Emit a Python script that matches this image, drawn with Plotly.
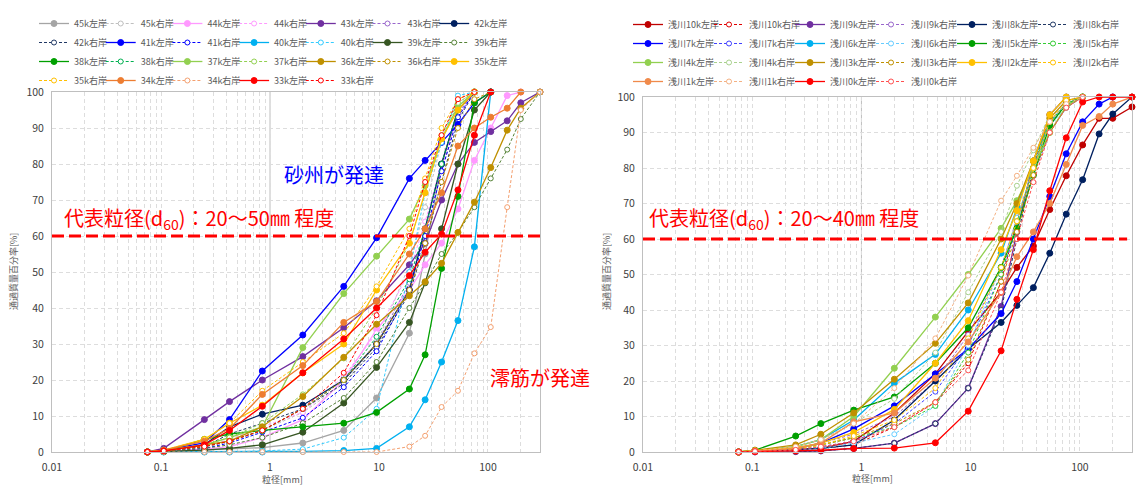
import math
import plotly.graph_objects as go

# ---------------- data ----------------
sieve_mm = [0.075, 0.106, 0.25, 0.425, 0.85, 2, 4.75, 9.5, 19, 26.5, 37.5, 53, 75, 106, 150, 200, 300]
y_ticks = [0, 10, 20, 30, 40, 50, 60, 70, 80, 90, 100]
x_tick_values = [0.01, 0.1, 1, 10, 100]
x_tick_labels = ["0.01", "0.1", "1", "10", "100"]
d60_level = 60

# left panel (main river)
k45_left = [0, 0.2, 0.5, 0.8, 1.2, 2.5, 6, 15, 33, 55, 80, 95, 100]
k45_right = [0, 0.3, 1.5, 3, 6, 11, 19, 30, 52, 68, 86, 97, 100]
k44_left = [0, 0.2, 0.8, 1.5, 4, 9, 20, 34, 45, 52, 58, 67.5, 81, 90, 99, 100]
k44_right = [0, 0.3, 1.5, 3.5, 7, 11, 21, 33, 50, 64, 80, 93, 100]
k43_left = [0, 1, 9, 14, 20, 26.5, 34.5, 42, 52, 58, 70, 80, 86, 89, 92, 97, 100]
k43_right = [0, 0.3, 1.5, 3, 6, 12, 20, 30, 47, 60, 78, 94, 100]
k42_left = [0, 0.3, 2, 7, 10.5, 13, 20, 30, 45, 62, 80, 95, 100]
k42_right = [0, 0.3, 1.5, 5, 8, 12, 19, 29, 44, 58, 75, 92, 100]
k41_left = [0, 0.5, 2.5, 9, 22.5, 32.5, 46, 59.5, 76, 81, 86, 91, 97, 100]
k41_right = [0, 0.2, 1, 2.5, 5.5, 9.5, 18, 28, 45, 60, 78, 93, 100]
k40_left = [0, 0, 0, 0, 0, 0.2, 0.4, 1, 7, 14.5, 25, 36.5, 57, 100]
k40_right = [0, 0, 0, 0, 0.3, 0.8, 4, 12, 50, 72, 86, 99, 100]
k39_left = [0, 0.1, 0.5, 1, 2, 5.5, 13.6, 23.5, 36, 47, 62, 80, 95, 100]
k39_right = [0, 0.2, 1, 2, 4, 8, 15, 25, 40, 47, 55, 61, 68, 76, 84, 92.5, 100]
k38_left = [0, 0.2, 3.5, 5, 6, 7, 8, 11, 17.5, 27, 51, 71, 97, 100]
k38_right = [0, 0.3, 1.5, 3, 6, 12, 20, 32, 48, 62, 80, 95, 100]
k37_left = [0, 0.5, 2, 4, 7, 29, 44, 54.4, 64.7, 74, 87, 96, 100]
k37_right = [0, 0.3, 2, 4, 8, 16, 26, 40, 58, 72, 88, 97, 100]
k36_left = [0, 0.3, 2, 3, 7, 15.4, 26.3, 35.5, 43.4, 47.3, 52.4, 61, 69.4, 79, 89.4, 95.5, 100]
k36_right = [0, 0.3, 1.5, 3, 6, 12, 20, 30, 45, 58, 75, 90, 98, 100]
k35_left = [0, 0.5, 3.5, 8, 13, 22, 30, 45, 58, 72, 87, 95, 100]
k35_right = [0, 0.5, 3.5, 8, 17, 25, 33, 46, 62, 76, 90, 98, 100]
k34_left = [0, 0.5, 3, 6.5, 16, 24, 36, 41.8, 55, 62, 72, 85, 90, 93, 95.5, 100]
k34_right = [0, 0, 0, 0, 0, 0, 0, 0, 1.5, 4.5, 12.5, 17, 27.4, 34.7, 68, 95, 100]
k33_left = [0, 0.3, 2, 6, 12.7, 22, 31.4, 40, 49, 55.5, 60.5, 72.8, 88, 100]
k33_right = [0, 0.3, 1.5, 3, 6, 12, 22, 38, 60, 75, 88, 98, 100]

left_names = ["45k左岸", "45k右岸", "44k左岸", "44k右岸", "43k左岸", "43k右岸", "42k左岸",
              "42k右岸", "41k左岸", "41k右岸", "40k左岸", "40k右岸", "39k左岸", "39k右岸",
              "38k左岸", "38k右岸", "37k左岸", "37k右岸", "36k左岸", "36k右岸", "35k左岸",
              "35k右岸", "34k左岸", "34k右岸", "33k左岸", "33k右岸"]
left_series = [k45_left, k45_right, k44_left, k44_right, k43_left, k43_right, k42_left,
               k42_right, k41_left, k41_right, k40_left, k40_right, k39_left, k39_right,
               k38_left, k38_right, k37_left, k37_right, k36_left, k36_right, k35_left,
               k35_right, k34_left, k34_right, k33_left, k33_right]
left_colors = ["#A5A5A5", "#BFBFBF", "#FF99FF", "#FF99FF", "#7030A0", "#9966CC", "#002060",
               "#203864", "#0000FF", "#0000FF", "#00B0F0", "#33CCFF", "#375623", "#548235",
               "#00A000", "#00B050", "#92D050", "#92D050", "#BF9000", "#BF9000", "#FFC000",
               "#FFC000", "#ED7D31", "#F4A070", "#FF0000", "#FF0000"]

# right panel (Asakawa)
a10_left = [0, 0.2, 0.5, 1, 3, 11, 22, 34, 45, 52, 58, 68.3, 77.8, 86.5, 94, 94, 97.2]
a10_right = [0, 0.2, 0.5, 1, 2, 7, 14, 25, 48, 65, 80, 92, 98, 100]
a9_left = [0, 0, 0.1, 0.3, 1, 2.5, 8, 18, 41, 62, 82, 95, 100]
a9_right = [0, 0.2, 1, 2.5, 5, 10, 20, 33, 52, 66, 80, 93, 98, 100]
a8_left = [0, 0.2, 0.5, 1, 2, 9, 20, 29, 36.5, 41.3, 46.3, 56, 67, 76.7, 89.6, 95.2, 100]
a8_right = [0, 0, 0.1, 0.3, 1, 2.5, 8, 18, 40, 60, 80, 95, 100]
a7_left = [0, 0.2, 1, 2.5, 6.5, 13, 22, 29, 39, 48, 60, 72, 84, 93, 98, 100]
a7_right = [0, 0.2, 0.6, 1.5, 3, 8, 17, 30, 50, 63, 78, 90, 97, 100]
a6_left = [0, 0.2, 1.5, 3.5, 9, 19.4, 27.5, 40, 56, 68.8, 82, 93, 98, 100]
a6_right = [0, 0, 0.3, 1, 2.5, 5, 13, 30, 52, 66, 80, 92, 97, 100]
a5_left = [0, 0.5, 4.5, 8, 11.8, 15.5, 25, 35, 52, 63, 78, 92, 98, 100]
a5_right = [0, 0.2, 1, 2, 4, 7, 13, 28, 50, 65, 80, 93, 98, 100]
a4_left = [0, 0.3, 1.5, 3.5, 10, 23.6, 38, 50, 63, 70.8, 80, 90, 97.5, 100]
a4_right = [0, 0.3, 1.5, 3.5, 8, 15, 28, 45, 62, 75, 85, 95, 100]
a3_left = [0, 0.5, 2, 5, 11, 20.5, 30.6, 42, 60, 70, 82, 94, 99, 100]
a3_right = [0, 0.2, 0.8, 2, 4, 8, 14, 26, 48, 62, 78, 90, 97, 100]
a2_left = [0, 0.3, 1.2, 2.5, 5.5, 12, 25, 37, 57, 68, 82, 95, 100]
a2_right = [0, 0.2, 0.8, 2, 4.5, 9, 18, 32, 52, 65, 80, 93, 99, 100]
a1_left = [0, 0.3, 1, 2.5, 8.5, 11, 20.8, 31, 45, 55, 62, 70, 81, 92, 94.5, 98, 100]
a1_right = [0, 0.3, 1.5, 3.5, 8, 18, 32, 49.7, 70.8, 77.8, 85.7, 93, 98, 100]
a0_left = [0, 0.1, 0.3, 0.5, 1, 1.1, 2.6, 11.5, 28.5, 43, 57, 73.6, 88.5, 98.6, 100, 100, 100]
a0_right = [0, 0.2, 0.6, 1.5, 3, 7, 14, 23, 45, 60, 76, 90, 97, 100]

right_names = ["浅川10k左岸", "浅川10k右岸", "浅川9k左岸", "浅川9k右岸", "浅川8k左岸", "浅川8k右岸",
               "浅川7k左岸", "浅川7k右岸", "浅川6k左岸", "浅川6k右岸", "浅川5k左岸", "浅川5k右岸",
               "浅川4k左岸", "浅川4k右岸", "浅川3k左岸", "浅川3k右岸", "浅川2k左岸", "浅川2k右岸",
               "浅川1k左岸", "浅川1k右岸", "浅川0k左岸", "浅川0k右岸"]
right_series = [a10_left, a10_right, a9_left, a9_right, a8_left, a8_right,
                a7_left, a7_right, a6_left, a6_right, a5_left, a5_right,
                a4_left, a4_right, a3_left, a3_right, a2_left, a2_right,
                a1_left, a1_right, a0_left, a0_right]
right_colors = ["#C00000", "#E00000", "#7030A0", "#9966CC", "#002060", "#203864",
                "#0000FF", "#4040FF", "#00B0F0", "#66CCFF", "#00A000", "#33CC33",
                "#92D050", "#A9D18E", "#BF9000", "#BF9000", "#FFC000", "#FFC000",
                "#F08A4B", "#F4B183", "#FF0000", "#FF5050"]

# ---------------- figure ----------------
# the page body adds an 8 px offset, so the figure is drawn 8 px smaller
OFF = 8
W, H = 1146 - OFF, 486 - OFF
fig = go.Figure()


def add_panel(names, series, colors, xa, ya, legend_id, ncols, prefix, entry_w, last_w):
    for i, (name, vals, col) in enumerate(zip(names, series, colors)):
        dashed = "右岸" in name
        fig.add_trace(go.Scatter(
            x=sieve_mm[:len(vals)], y=vals, name=name, mode="lines+markers",
            xaxis=xa, yaxis=ya, legend=legend_id, legendgroup=f"{prefix}{i % ncols}",
            legendwidth=last_w if i % ncols == ncols - 1 else entry_w,
            cliponaxis=False,
            line=dict(color=col, width=1 if dashed else 1.3, dash="3px,2px" if dashed else "solid"),
            marker=dict(symbol="circle", size=5 if dashed else 6,
                        color="white" if dashed else col,
                        line=dict(color=col, width=1)),
            hovertemplate=name + "<br>%{x} mm: %{y}%<extra></extra>",
        ))


add_panel(left_names, left_series, left_colors, "x", "y", "legend", 7, "L", 21.7, 40)
add_panel(right_names, right_series, right_colors, "x2", "y2", "legend2", 6, "R", 36, 56)


def px_x(p):
    return (p - OFF) / W


def px_y(p):
    return 1 - (p - OFF) / H


grid = "#DDDDDD"
axis_common = dict(
    type="log", range=[-2, math.log10(300)], tickvals=x_tick_values, ticktext=x_tick_labels,
    showgrid=True, gridcolor=grid, griddash="4px,3px", gridwidth=1,
    minor=dict(dtick="D1", showgrid=True, gridcolor=grid, griddash="4px,3px", ticks=""),
    showline=True, linecolor="#BFBFBF", mirror=True, zeroline=False, ticks="",
    tickfont=dict(size=10.5, color="#404040"), ticklabelstandoff=5, automargin=False,
)
yaxis_common = dict(
    range=[0, 100], tickvals=y_ticks, showgrid=True, gridcolor=grid, griddash="4px,3px",
    showline=True, linecolor="#BFBFBF", mirror=True, zeroline=False, ticks="",
    tickfont=dict(size=10.5, color="#404040"), ticklabelstandoff=5, automargin=False,
)

fig.update_layout(
    width=W, height=H, margin=dict(l=0, r=0, t=0, b=0, autoexpand=False),
    paper_bgcolor="white", plot_bgcolor="white",
    font=dict(family="Noto Sans CJK JP, Noto Sans, sans-serif", color="#595959", size=10),
    xaxis=dict(domain=[px_x(52), px_x(540)], anchor="y", **axis_common),
    yaxis=dict(domain=[px_y(452), px_y(92)], anchor="x", **yaxis_common),
    xaxis2=dict(domain=[px_x(643), px_x(1132)], anchor="y2", **axis_common),
    yaxis2=dict(domain=[px_y(452), px_y(97)], anchor="x2", **yaxis_common),
    showlegend=True,
    legend=dict(orientation="h", traceorder="grouped", x=px_x(34), xanchor="left",
                y=px_y(9), yanchor="top", entrywidthmode="pixels",
                itemwidth=30, font=dict(size=9, color="#595959"), bgcolor="rgba(0,0,0,0)"),
    legend2=dict(orientation="h", traceorder="grouped", x=px_x(628), xanchor="left",
                 y=px_y(10), yanchor="top", entrywidthmode="pixels",
                 itemwidth=30, font=dict(size=9, color="#595959"), bgcolor="rgba(0,0,0,0)"),
)

shapes = [
    dict(type="line", xref="x", yref="y domain", x0=1, x1=1, y0=0, y1=1,
         line=dict(color="#BFBFBF", width=1), layer="below"),
    dict(type="line", xref="x2", yref="y2 domain", x0=1, x1=1, y0=0, y1=1,
         line=dict(color="#BFBFBF", width=1), layer="below"),
    dict(type="line", xref="x domain", yref="y", x0=0, x1=1, y0=d60_level, y1=d60_level,
         line=dict(color="#FF0000", width=3, dash="12px,5px")),
    dict(type="line", xref="x2 domain", yref="y2", x0=0, x1=0.99, y0=d60_level, y1=d60_level,
         line=dict(color="#FF0000", width=3, dash="12px,5px")),
]
fig.update_layout(shapes=shapes)

red = "#FF0000"
ann = [
    dict(text="代表粒径(d<sub>60</sub>)：20～50㎜ 程度", x=px_x(62), y=px_y(218),
         xanchor="left", yanchor="middle", font=dict(size=20, color=red)),
    dict(text="砂州が発達", x=px_x(282), y=px_y(174), xanchor="left", yanchor="middle",
         font=dict(size=20, color="#0000FF")),
    dict(text="澪筋が発達", x=px_x(488), y=px_y(377), xanchor="left", yanchor="middle",
         font=dict(size=20, color=red)),
    dict(text="代表粒径(d<sub>60</sub>)：20～40㎜ 程度", x=px_x(647), y=px_y(218),
         xanchor="left", yanchor="middle", font=dict(size=20, color=red)),
    dict(text="粒径[mm]", x=px_x(282), y=px_y(479), xanchor="center", yanchor="middle",
         font=dict(size=9, color="#595959")),
    dict(text="粒径[mm]", x=px_x(872), y=px_y(478), xanchor="center", yanchor="middle",
         font=dict(size=9, color="#595959")),
    dict(text="通過質量百分率[%]", x=px_x(13), y=px_y(272), textangle=-90,
         xanchor="center", yanchor="middle", font=dict(size=9, color="#595959")),
    dict(text="通過質量百分率[%]", x=px_x(606), y=px_y(272), textangle=-90,
         xanchor="center", yanchor="middle", font=dict(size=9, color="#595959")),
]
for a in ann:
    a.update(xref="paper", yref="paper", showarrow=False)
fig.update_layout(annotations=ann)

fig.write_html("out.html")
